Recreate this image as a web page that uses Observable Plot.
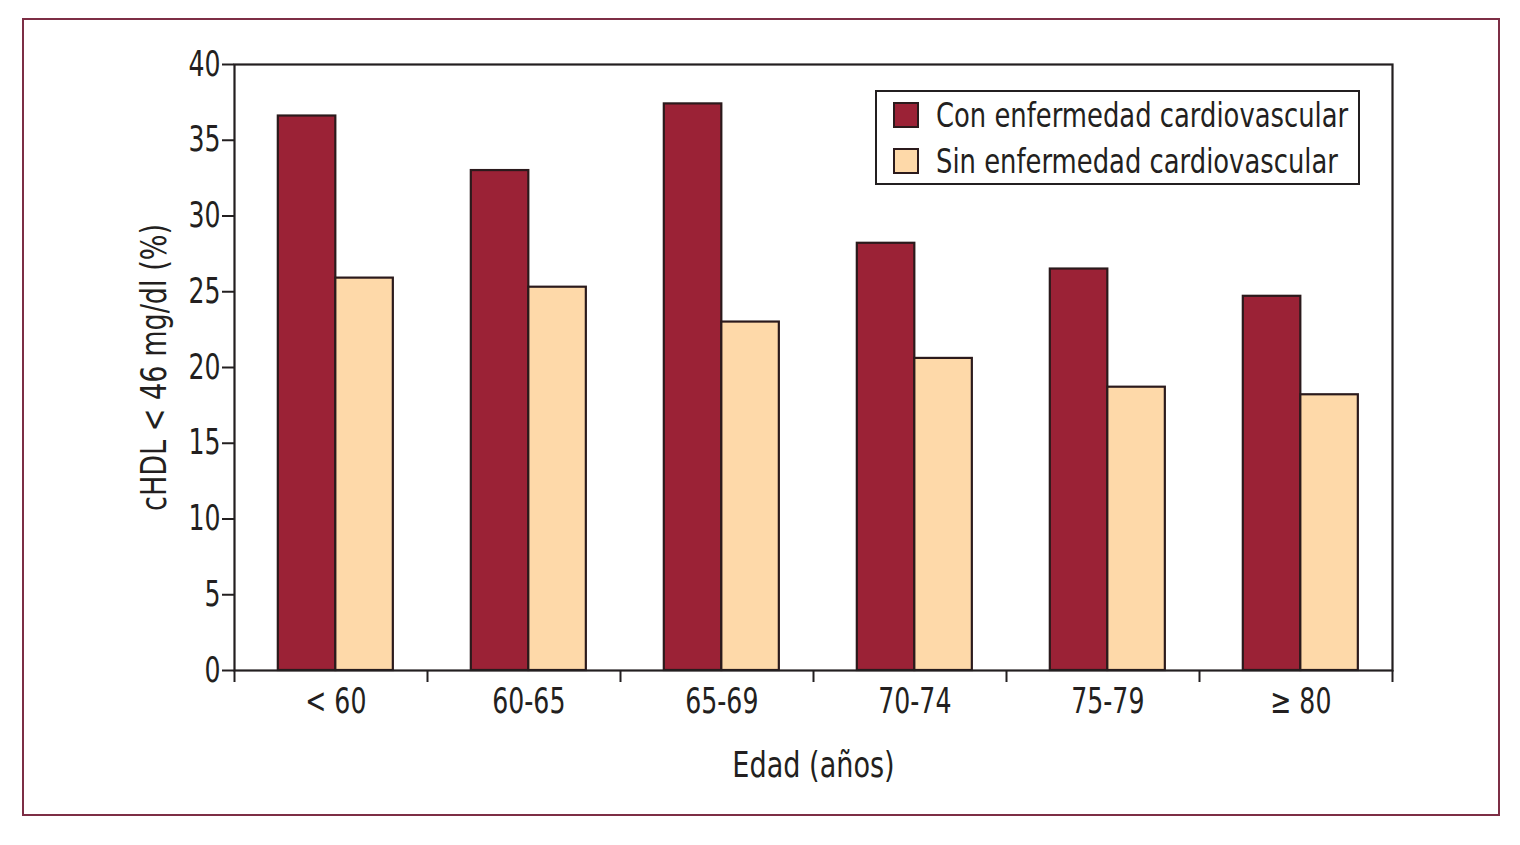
<!DOCTYPE html>
<html>
<head>
<meta charset="utf-8">
<script src="https://cdn.jsdelivr.net/npm/d3@7"></script>
<script src="https://cdn.jsdelivr.net/npm/@observablehq/plot@0.6"></script>
<style>
  body { margin:0; background:#fff; width:1520px; height:845px; overflow:hidden; position:relative;
         font-family:"Liberation Sans Narrow","Arial Narrow","DejaVu Sans Condensed",sans-serif; color:#231f20; }
  #border { position:absolute; left:22px; top:18px; width:1474px; height:794px; border:2px solid #7d2e45; }
  #chart { position:absolute; left:0; top:0; }
  #legend { position:absolute; left:875px; top:90px; width:481px; height:91px; border:2px solid #231f20; background:#fff; }
  .item { position:absolute; left:16px; height:34px; display:flex; align-items:center; font-size:34px; white-space:nowrap; }
  .sw { width:22px; height:22px; border:2px solid #2b1a1c; margin-right:17px; flex:none; }
  .lt { display:inline-block; transform:scaleX(0.845); transform-origin:left center; }
</style>
</head>
<body>
<div id="border"></div>
<div id="chart"></div>
<div id="legend"></div>
<script>
const ages = ["< 60", "60-65", "65-69", "70-74", "75-79", "≥ 80"];
const conValues = [36.6, 33.0, 37.4, 28.2, 26.5, 24.7];
const sinValues = [25.9, 25.3, 23.0, 20.6, 18.7, 18.2];
const seriesNames = ["Con enfermedad cardiovascular", "Sin enfermedad cardiovascular"];
const seriesColors = ["#9b2236", "#fed9a9"];
const yTicks = [0, 5, 10, 15, 20, 25, 30, 35, 40];

const rows = ages.flatMap((a, i) => [
  {age: a, i, series: seriesNames[0], value: conValues[i], side: -1},
  {age: a, i, series: seriesNames[1], value: sinValues[i], side: 0}
]);

const center = 0.525, bw = 0.298;
const font = '"Liberation Sans Narrow","Arial Narrow","DejaVu Sans Condensed",sans-serif';

const chart = Plot.plot({
  width: 1520, height: 845,
  marginLeft: 234, marginRight: 128, marginTop: 64, marginBottom: 175,
  style: {fontFamily: font, fontSize: "34px", color: "#231f20", background: "transparent"},
  x: {domain: [0, ages.length]},
  y: {domain: [0, 40]},
  color: {domain: seriesNames, range: seriesColors},
  marks: [
    Plot.rect(rows, {
      x1: d => d.i + center + d.side * bw,
      x2: d => d.i + center + (d.side + 1) * bw,
      y1: 0, y2: "value",
      fill: "series", stroke: "#2b1a1c", strokeWidth: 2.2
    }),
    Plot.frame({stroke: "#231f20", strokeWidth: 2.2}),
    Plot.axisY({ticks: yTicks, tickSize: 12, tickPadding: 2, fontSize: 35, strokeWidth: 2,
      label: "cHDL < 46 mg/dl (%)", labelAnchor: "center", labelArrow: "none", labelOffset: 93}),
    Plot.axisX({ticks: d3.range(0, ages.length + 1), tickSize: 12, tickFormat: () => "", label: null, strokeWidth: 2}),
    Plot.axisX({ticks: ages.map((_, i) => i + center), tickSize: 0, tickPadding: 18, fontSize: 35,
      tickFormat: t => ages[Math.round(t - center)],
      label: "Edad (años)", labelAnchor: "center", labelArrow: "none", labelOffset: 106})
  ]
});
document.getElementById("chart").append(chart);

// condense glyphs horizontally to mimic the narrow typeface of the original
chart.querySelectorAll("text").forEach(el => {
  const targets = el.querySelectorAll("tspan").length ? el.querySelectorAll("tspan") : [el];
  targets.forEach(t => {
    const len = t.getComputedTextLength();
    if (len > 0) {
      const isLabel = /cHDL|Edad/.test(t.textContent);
      t.setAttribute("textLength", len * (isLabel ? 0.86 : 0.8));
      t.setAttribute("lengthAdjust", "spacingAndGlyphs");
    }
  });
});

const legend = document.getElementById("legend");
seriesNames.forEach((name, k) => {
  const it = document.createElement("div");
  it.className = "item";
  it.style.top = (6 + k * 46) + "px";
  const sw = document.createElement("div");
  sw.className = "sw";
  sw.style.background = seriesColors[k];
  const tx = document.createElement("span");
  tx.className = "lt";
  tx.textContent = name;
  it.append(sw, tx);
  legend.append(it);
});
</script>
</body>
</html>
